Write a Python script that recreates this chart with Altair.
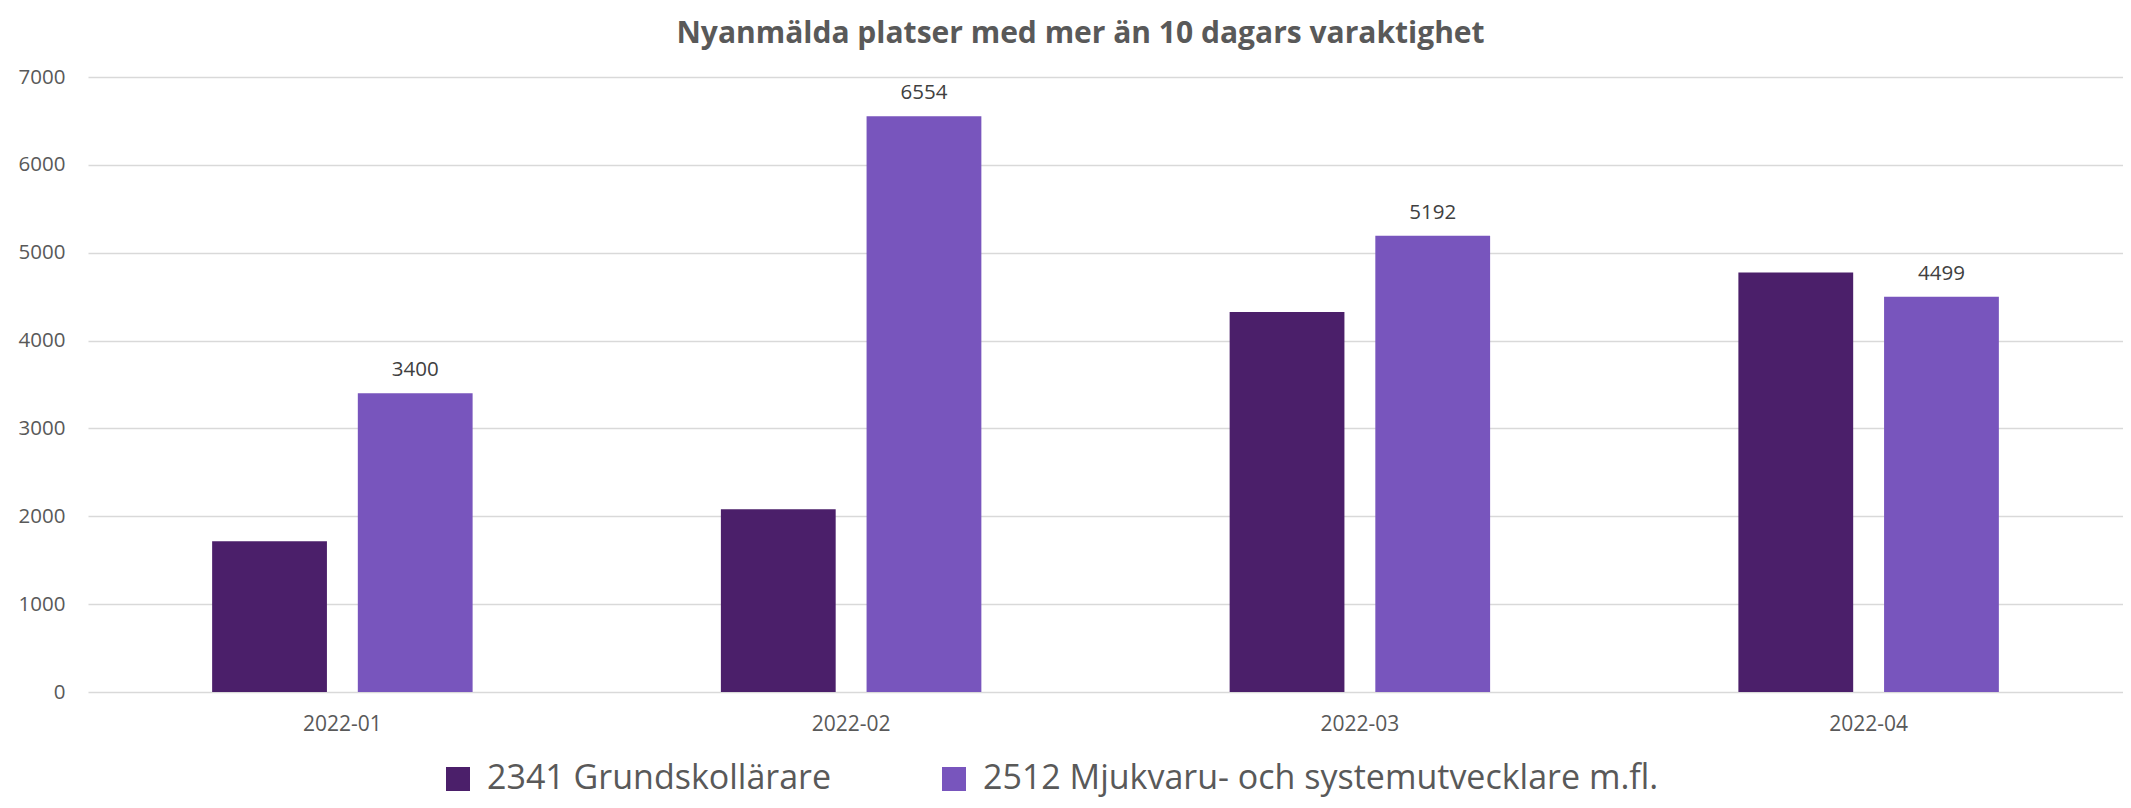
import altair as alt
import pandas as pd

months = ["2022-01", "2022-02", "2022-03", "2022-04"]
series_names = ["2341 Grundskollärare", "2512 Mjukvaru- och systemutvecklare m.fl."]
grund = [1716, 2080, 4326, 4775]
mjuk = [3400, 6554, 5192, 4499]
colors = ["#4b1f6a", "#7855bd"]
y_ticks = [0, 1000, 2000, 3000, 4000, 5000, 6000, 7000]

rows = []
for m, g, s in zip(months, grund, mjuk):
    rows.append({"month": m, "series": series_names[0], "value": g})
    rows.append({"month": m, "series": series_names[1], "value": s})
df = pd.DataFrame(rows)

FONT = "Open Sans"

x_enc = alt.X("month:N", sort=months, title=None,
              scale=alt.Scale(paddingInner=0.488, paddingOuter=0.244),
              axis=alt.Axis(labelAngle=0, labelFont=FONT, labelFontSize=21,
                            labelColor="#595959", labelPadding=21,
                            domain=False, ticks=False, grid=False))
xo_enc = alt.XOffset("series:N", sort=series_names,
                     scale=alt.Scale(domain=series_names, paddingInner=0.212, paddingOuter=0))
y_enc = alt.Y("value:Q", title=None,
              scale=alt.Scale(domain=[0, 7000], nice=False),
              axis=alt.Axis(values=y_ticks, format="d", labelFont=FONT, labelFontSize=20.5,
                            labelColor="#595959", labelPadding=23,
                            domain=False, ticks=False, grid=True,
                            gridColor="#d9d9d9", gridWidth=1.6))

bars = alt.Chart(df).mark_bar().encode(
    x=x_enc,
    xOffset=xo_enc,
    y=y_enc,
    color=alt.Color("series:N", sort=series_names,
                    scale=alt.Scale(domain=series_names, range=colors),
                    legend=alt.Legend(title=None, orient="none", direction="horizontal",
                                      legendX=353, legendY=685, columns=2,
                                      symbolType="square", symbolSize=576,
                                      symbolStrokeWidth=0, labelFont=FONT,
                                      labelFontSize=34, labelColor="#595959",
                                      labelOffset=12, labelLimit=1200,
                                      columnPadding=105, padding=0)),
)

labels = alt.Chart(df).transform_filter(
    alt.datum.series == series_names[1]
).mark_text(font=FONT, fontSize=20.5, color="#404040", baseline="alphabetic", dy=-17).encode(
    x=alt.X("month:N", sort=months),
    xOffset=alt.XOffset("series:N", sort=series_names),
    y=alt.Y("value:Q"),
    text=alt.Text("value:Q", format="d"),
)

chart = alt.layer(bars, labels).properties(
    width=2035,
    height=615,
    autosize=alt.AutoSizeParams(type="none"),
    padding={"left": 80, "top": 69, "right": 0, "bottom": 108},
    title=alt.TitleParams("Nyanmälda platser med mer än 10 dagars varaktighet",
                          font=FONT, fontSize=30, fontWeight="bold", color="#595959",
                          anchor="middle", dx=-25, offset=18),
).configure_view(stroke=None)

chart.save("out.html", embed_options={"renderer": "svg", "actions": False})
